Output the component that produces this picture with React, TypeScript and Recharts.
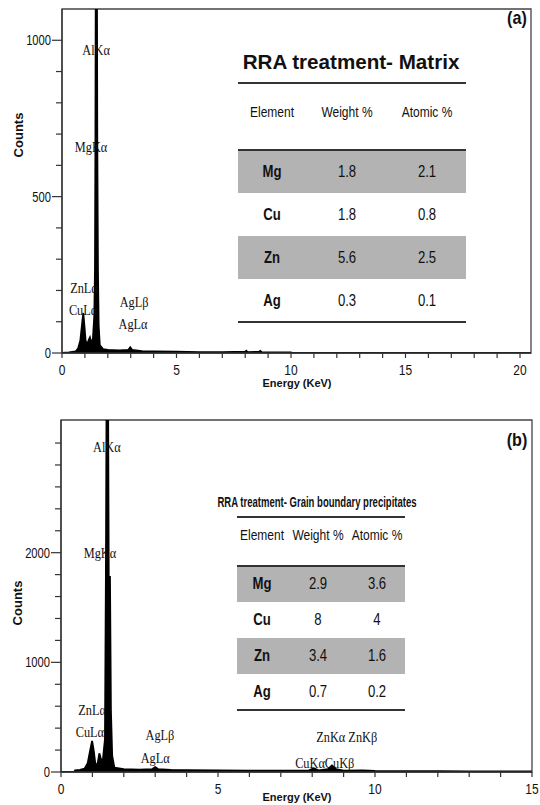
import React from 'react';
import { AreaChart, Area, XAxis, YAxis, ReferenceDot, ReferenceArea } from 'recharts';

// (a) matrix spectrum
const energyA = [0, 0.3, 0.6, 0.7, 0.8, 0.88, 0.93, 0.98, 1.03, 1.1, 1.17, 1.22, 1.28, 1.35, 1.41, 1.44, 1.46, 1.48, 1.52, 1.54, 1.57, 1.6, 1.65, 1.8, 2.0, 2.5, 2.9, 2.98, 3.06, 3.5, 4.0, 5.0, 6.0, 7.0, 8.0, 8.05, 8.1, 8.6, 8.66, 8.72, 9.5, 10.0, 10.05, 20.48];
const countsA = [0, 2, 5, 14, 40, 95, 128, 85, 40, 28, 42, 50, 32, 45, 120, 270, 700, 1400, 1400, 700, 265, 90, 25, 12, 10, 8, 10, 18, 10, 6, 5, 4, 3, 3, 4, 7, 3, 4, 7, 3, 2, 2, 0, 0];

// (b) grain boundary spectrum
const energyB = [0, 0.42, 0.45, 0.6, 0.75, 0.85, 0.93, 0.99, 1.04, 1.1, 1.17, 1.22, 1.27, 1.33, 1.4, 1.43, 1.45, 1.5, 1.52, 1.56, 1.59, 1.63, 1.7, 2.0, 2.5, 2.9, 3.0, 3.1, 3.5, 4.0, 5.0, 6.0, 7.0, 7.9, 8.05, 8.2, 8.5, 8.63, 8.76, 9.0, 9.6, 10.0, 11.0, 12.0, 13.0, 15.0];
const countsB = [0, 0, 15, 20, 30, 80, 200, 283, 200, 60, 80, 170, 120, 100, 300, 1800, 3400, 3400, 1780, 1780, 560, 150, 40, 25, 22, 25, 45, 25, 20, 18, 15, 12, 12, 15, 35, 15, 25, 60, 25, 12, 15, 10, 8, 8, 5, 5];

const xTicksA = [0, 1, 2, 3, 4, 5, 6, 7, 8, 9, 10, 11, 12, 13, 14, 15, 16, 17, 18, 19, 20];
const yTicksA = [0, 100, 200, 300, 400, 500, 600, 700, 800, 900, 1000];
const yLabelsA = [0, 500, 1000];
const xTicksB = [0, 1, 2, 3, 4, 5, 6, 7, 8, 9, 10, 11, 12, 13, 14, 15];
const yTicksB = [0, 200, 400, 600, 800, 1000, 1200, 1400, 1600, 1800, 2000, 2200, 2400, 2600, 2800, 3000];
const yLabelsB = [0, 1000, 2000];

// peak labels: text, energy, counts
const peakTextA = ['AlKα', 'MgKα', 'ZnLα', 'CuLα', 'AgLβ', 'AgLα'];
const peakEA = [1.49, 1.27, 0.96, 0.92, 3.15, 3.1];
const peakCA = [969, 659, 208, 137, 163, 93];

const peakTextB = ['AlKα', 'MgKα', 'ZnLα', 'CuLα', 'AgLβ', 'AgLα', 'ZnKα ZnKβ', 'CuKαCuKβ'];
const peakEB = [1.46, 1.24, 0.99, 0.92, 3.15, 3.0, 9.1, 8.4];
const peakCB = [2960, 1995, 565, 364, 337, 128, 319, 82];

// tables
const elements = ['Mg', 'Cu', 'Zn', 'Ag'];
const weightA = ['1.8', '1.8', '5.6', '0.3'];
const atomicA = ['2.1', '0.8', '2.5', '0.1'];
const weightB = ['2.9', '8', '3.4', '0.7'];
const atomicB = ['3.6', '4', '1.6', '0.2'];
const headers = ['Element', 'Weight %', 'Atomic %'];

const SANS = "'Liberation Sans', Arial, sans-serif";
const SERIF = "'Liberation Serif', 'Times New Roman', serif";

const dataA = energyA.map((e, i) => ({ e, c: countsA[i] }));
const dataB = energyB.map((e, i) => ({ e, c: countsB[i] }));

const XTick = ({ x, y, payload }: any) => {
  const major = payload.value % 5 === 0;
  return (
    <g>
      <line x1={x} x2={x} y1={y} y2={y + 5} stroke="#333" strokeWidth={1.2} />
      {major && (
        <text transform={`translate(${x},${y + 22}) scale(0.8,1)`} textAnchor="middle" fontSize={15} fontFamily={SANS} fill="#111">
          {payload.value}
        </text>
      )}
    </g>
  );
};

const makeYTick = (labels: number[]) => ({ x, y, payload }: any) => {
  const major = labels.includes(payload.value);
  const len = major ? 10 : 6;
  return (
    <g>
      <line x1={x - len} x2={x} y1={y} y2={y} stroke="#333" strokeWidth={1.2} />
      {major && (
        <text transform={`translate(${x - 11},${y + 5}) scale(0.8,1)`} textAnchor="end" fontSize={14} fontFamily={SANS} fill="#111">
          {payload.value}
        </text>
      )}
    </g>
  );
};

const YTickA = makeYTick(yLabelsA);
const YTickB = makeYTick(yLabelsB);

const Centered = ({ cx, cy, size, bold, font, sx = 1, children }: any) => (
  <div
    style={{
      position: 'absolute',
      left: cx - 150,
      width: 300,
      top: cy - size,
      height: size * 2,
      lineHeight: `${size * 2}px`,
      textAlign: 'center',
      fontSize: size,
      fontWeight: bold ? 'bold' : 'normal',
      fontFamily: font || SANS,
      color: '#111',
      whiteSpace: 'nowrap',
      transform: `scaleX(${sx})`,
    }}
  >
    {children}
  </div>
);

const HLine = ({ left, width, y, h }: any) => (
  <div style={{ position: 'absolute', left, width, top: y - h / 2, height: h, background: '#333' }} />
);

const ElementTable = ({ title, weight, atomic, c }: any) => (
  <>
    <Centered cx={c.titleX} cy={c.titleY} size={c.titleSize} bold sx={c.titleSx}>
      {title}
    </Centered>
    <HLine left={c.left} width={c.width} y={c.line1Y} h={1.5} />
    {headers.map((h, i) => (
      <Centered key={h} cx={c.colX[i]} cy={c.headerY} size={c.headerSize} sx={0.8}>
        {h}
      </Centered>
    ))}
    {elements.map((el, r) => (
      <React.Fragment key={el}>
        {r % 2 === 0 && (
          <div
            style={{
              position: 'absolute',
              left: c.left,
              width: c.width,
              top: c.rowTop + r * c.rowH,
              height: c.rowH,
              background: '#b3b3b3',
            }}
          />
        )}
        <Centered cx={c.colX[0]} cy={c.rowTop + r * c.rowH + c.rowH / 2} size={c.valueSize} bold sx={0.82}>
          {el}
        </Centered>
        <Centered cx={c.colX[1]} cy={c.rowTop + r * c.rowH + c.rowH / 2} size={c.valueSize} sx={0.82}>
          {weight[r]}
        </Centered>
        <Centered cx={c.colX[2]} cy={c.rowTop + r * c.rowH + c.rowH / 2} size={c.valueSize} sx={0.82}>
          {atomic[r]}
        </Centered>
      </React.Fragment>
    ))}
    <HLine left={c.left} width={c.width} y={c.rowTop} h={1.5} />
    <HLine left={c.left} width={c.width} y={c.rowTop + 4 * c.rowH} h={1.5} />
  </>
);

const tableCfgA = {
  left: 238, width: 228, titleX: 351, titleY: 62, titleSize: 20, titleSx: 1.03,
  line1Y: 83, headerY: 112, headerSize: 15, colX: [272, 347, 427],
  rowTop: 150, rowH: 43, valueSize: 16,
};
const tableCfgB = {
  left: 237, width: 168, titleX: 317, titleY: 502, titleSize: 14, titleSx: 0.68,
  line1Y: 517, headerY: 535, headerSize: 15, colX: [262, 318, 377],
  rowTop: 566, rowH: 36, valueSize: 16,
};

const peakLabel = (text: string) => ({
  content: ({ viewBox }: any) => (
    <text
      transform={`translate(${viewBox.x + viewBox.width / 2},${viewBox.y + viewBox.height / 2 + 5}) scale(0.88,1)`}
      textAnchor="middle"
      fontSize={14}
      fontFamily={SERIF}
      fill="#111"
    >
      {text}
    </text>
  ),
});

const countsStyle = (cx: number, cy: number): React.CSSProperties => ({
  position: 'absolute',
  left: cx - 40,
  top: cy - 10,
  width: 80,
  height: 20,
  lineHeight: '20px',
  textAlign: 'center',
  transform: 'rotate(-90deg)',
  fontFamily: SANS,
  fontWeight: 'bold',
  fontSize: 13,
  color: '#111',
});

export default function App() {
  return (
    <div style={{ position: 'absolute', left: 0, top: 0, width: 540, height: 805, background: '#fff', overflow: 'hidden' }}>
      <div style={{ position: 'absolute', left: 0, top: 0 }}>
        <AreaChart width={540} height={390} data={dataA} margin={{ top: 9, right: 9, left: 0, bottom: 0 }}>
          <XAxis
            dataKey="e"
            type="number"
            domain={[0, 20.48]}
            ticks={xTicksA}
            interval={0}
            allowDataOverflow
            height={37}
            tickSize={0}
            tickMargin={0}
            tickLine={false}
            tick={<XTick />}
            axisLine={{ stroke: '#333', strokeWidth: 1.3 }}
          />
          <YAxis
            type="number"
            domain={[0, 1100]}
            ticks={yTicksA}
            interval={0}
            allowDataOverflow
            width={62}
            tickSize={0}
            tickMargin={0}
            tickLine={false}
            tick={<YTickA />}
            axisLine={{ stroke: '#333', strokeWidth: 1.3 }}
          />
          <ReferenceArea x1={0} x2={20.48} y1={0} y2={1100} fill="none" stroke="#444" strokeWidth={1.3} ifOverflow="visible" />
          <Area
            type="linear"
            dataKey="c"
            stroke="#000"
            strokeWidth={1.8}
            fill="#000"
            fillOpacity={1}
            dot={false}
            activeDot={false}
            isAnimationActive={false}
          />
          {peakTextA.map((t, i) => (
            <ReferenceDot key={t} x={peakEA[i]} y={peakCA[i]} r={0} fill="none" stroke="none" label={peakLabel(t)} />
          ))}
        </AreaChart>
      </div>

      <div style={{ position: 'absolute', left: 0, top: 390 }}>
        <AreaChart width={540} height={415} data={dataB} margin={{ top: 30, right: 8, left: 0, bottom: 0 }}>
          <XAxis
            dataKey="e"
            type="number"
            domain={[0, 15]}
            ticks={xTicksB}
            interval={0}
            allowDataOverflow
            height={33}
            tickSize={0}
            tickMargin={0}
            tickLine={false}
            tick={<XTick />}
            axisLine={{ stroke: '#333', strokeWidth: 1.3 }}
          />
          <YAxis
            type="number"
            domain={[0, 3210]}
            ticks={yTicksB}
            interval={0}
            allowDataOverflow
            width={61}
            tickSize={0}
            tickMargin={0}
            tickLine={false}
            tick={<YTickB />}
            axisLine={{ stroke: '#333', strokeWidth: 1.3 }}
          />
          <ReferenceArea x1={0} x2={15} y1={0} y2={3210} fill="none" stroke="#444" strokeWidth={1.3} ifOverflow="visible" />
          <Area
            type="linear"
            dataKey="c"
            stroke="#000"
            strokeWidth={1.8}
            fill="#000"
            fillOpacity={1}
            dot={false}
            activeDot={false}
            isAnimationActive={false}
          />
          {peakTextB.map((t, i) => (
            <ReferenceDot key={t} x={peakEB[i]} y={peakCB[i]} r={0} fill="none" stroke="none" label={peakLabel(t)} />
          ))}
        </AreaChart>
      </div>

      {/* axis titles */}
      <Centered cx={297} cy={383} size={11} bold>Energy (KeV)</Centered>
      <Centered cx={297} cy={797} size={11} bold>Energy (KeV)</Centered>
      <div style={countsStyle(19, 135)}>Counts</div>
      <div style={countsStyle(18, 603)}>Counts</div>

      {/* panel letters */}
      <Centered cx={517} cy={18} size={19} bold sx={0.85}>(a)</Centered>
      <Centered cx={517} cy={440} size={19} bold sx={0.85}>(b)</Centered>

      <ElementTable title="RRA treatment- Matrix" weight={weightA} atomic={atomicA} c={tableCfgA} />
      <ElementTable title="RRA treatment- Grain boundary precipitates" weight={weightB} atomic={atomicB} c={tableCfgB} />
    </div>
  );
}
